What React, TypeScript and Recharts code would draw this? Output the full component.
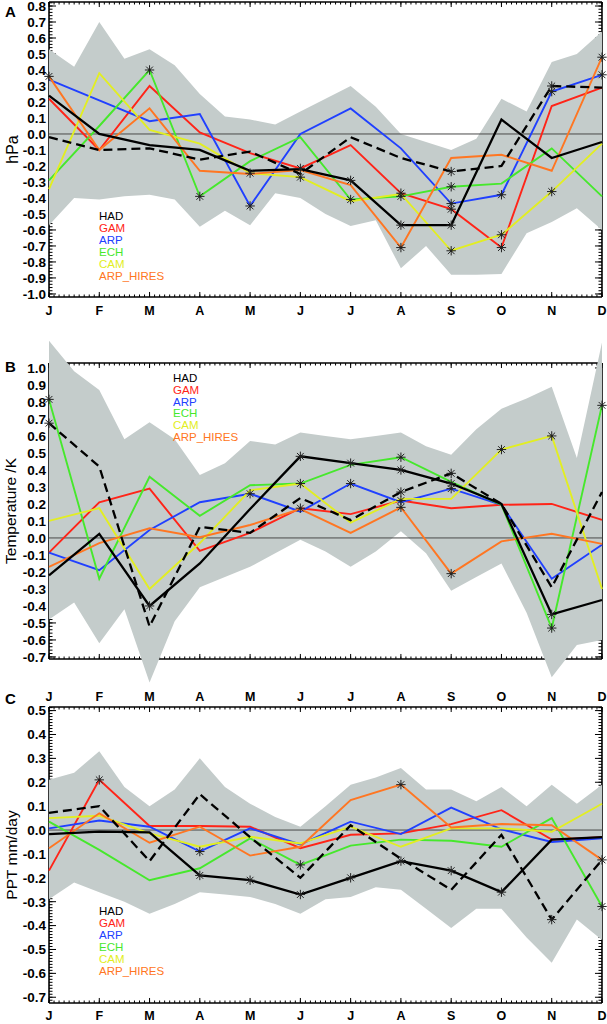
import { ComposedChart, Line, Area, XAxis, YAxis, ReferenceLine, Customized } from "recharts";

const MONTHS = ["J", "F", "M", "A", "M", "J", "J", "A", "S", "O", "N", "D"];
const MONTH_X = [0, 1, 2, 3, 4, 5, 6, 7, 8, 9, 10, 11];
// the spread band is sampled at mid-months too
const BAND_X = [0, 0.5, 1, 1.5, 2, 2.5, 3, 3.5, 4, 4.5, 5, 5.5, 6, 6.5, 7, 7.5, 8, 8.5, 9, 9.5, 10, 10.5, 11];

const SERIES = ["HAD", "GAM", "ARP", "ECH", "CAM", "ARP_HIRES"];
const COLORS: Record<string, string> = {
  HAD: "#000000",
  GAM: "#ff2418",
  ARP: "#2040ff",
  ECH: "#46e82c",
  CAM: "#e2ee22",
  ARP_HIRES: "#ff7622",
};
// colour lines first, black ones last (on top)
const DRAW_ORDER = ["GAM", "ARP", "ECH", "CAM", "ARP_HIRES", "HAD"];

// ---- A : pressure (hPa)
const A_TICKS = [-1.0, -0.9, -0.8, -0.7, -0.6, -0.5, -0.4, -0.3, -0.2, -0.1, 0.0, 0.1, 0.2, 0.3, 0.4, 0.5, 0.6, 0.7, 0.8];
const A_HAD = [0.24, 0.0, -0.07, -0.1, -0.23, -0.22, -0.29, -0.57, -0.57, 0.09, -0.15, -0.05];
const A_GAM = [0.22, -0.1, 0.3, 0.01, -0.12, -0.215, -0.07, -0.37, -0.47, -0.71, 0.175, 0.29];
const A_ARP = [0.34, 0.21, 0.08, 0.125, -0.45, 0.0, 0.16, -0.09, -0.435, -0.38, 0.265, 0.37];
const A_ECH = [-0.29, 0.05, 0.4, -0.39, -0.17, -0.02, -0.41, -0.39, -0.33, -0.31, -0.09, -0.39];
const A_CAM = [-0.345, 0.38, 0.025, -0.06, -0.245, -0.27, -0.42, -0.375, -0.73, -0.63, -0.36, -0.06];
const A_HIRES = [0.36, -0.1, 0.16, -0.23, -0.25, -0.225, -0.32, -0.71, -0.15, -0.13, -0.23, 0.48];
const A_DASH = [-0.02, -0.1, -0.09, -0.16, -0.11, -0.25, -0.02, -0.15, -0.235, -0.2, 0.3, 0.29];
const A_BAND_UP = [0.53, 0.42, 0.7, 0.47, 0.53, 0.43, 0.25, 0.11, 0.09, 0.06, 0.14, 0.22, 0.3, 0.17, 0.0, -0.05, -0.1, -0.03, 0.22, 0.14, 0.45, 0.5, 0.64];
const A_BAND_LO = [-0.57, -0.4, -0.41, -0.39, -0.38, -0.41, -0.58, -0.48, -0.57, -0.37, -0.4, -0.5, -0.575, -0.54, -0.84, -0.7, -0.88, -0.88, -0.875, -0.62, -0.55, -0.465, -0.6];
// months (index) carrying an asterisk
const A_STARS: Record<string, number[]> = {
  HAD: [6, 7, 8],
  GAM: [5, 7, 8, 9],
  ARP: [4, 8, 9, 10, 11],
  ECH: [2, 3, 6, 7, 8],
  CAM: [4, 5, 8, 9, 10],
  ARP_HIRES: [0, 7, 11],
  DASH: [8, 10],
};

// ---- B : temperature
const B_TICKS = [-0.7, -0.6, -0.5, -0.4, -0.3, -0.2, -0.1, 0.0, 0.1, 0.2, 0.3, 0.4, 0.5, 0.6, 0.7, 0.8, 0.9, 1.0];
const B_HAD = [-0.22, 0.024, -0.4, -0.15, 0.17, 0.48, 0.44, 0.4, 0.32, 0.2, -0.45, -0.365];
const B_GAM = [-0.086, 0.21, 0.29, -0.076, 0.03, 0.175, 0.14, 0.22, 0.175, 0.195, 0.2, 0.106];
const B_ARP = [-0.086, -0.19, 0.047, 0.21, 0.26, 0.155, 0.32, 0.21, 0.29, 0.195, -0.24, -0.04];
const B_ECH = [0.815, -0.24, 0.36, 0.13, 0.31, 0.32, 0.43, 0.475, 0.33, 0.195, -0.53, 0.78];
const B_CAM = [0.1, 0.175, -0.3, -0.03, 0.28, 0.32, 0.09, 0.23, 0.23, 0.52, 0.6, -0.3];
const B_HIRES = [-0.17, -0.03, 0.057, 0.004, 0.076, 0.17, 0.03, 0.18, -0.21, -0.02, 0.025, -0.035];
const B_DASH = [0.675, 0.42, -0.52, 0.065, 0.03, 0.235, 0.105, 0.27, 0.38, 0.2, -0.29, 0.27];
const B_BAND_UP = [1.16, 0.98, 0.87, 0.58, 0.68, 0.58, 0.37, 0.44, 0.57, 0.55, 0.62, 0.6, 0.58, 0.6, 0.62, 0.54, 0.49, 0.64, 0.76, 0.82, 0.89, 0.47, 1.15];
const B_BAND_LO = [-0.48, -0.38, -0.62, -0.42, -0.85, -0.49, -0.29, -0.23, -0.17, -0.09, -0.01, -0.08, -0.17, -0.08, 0.04, -0.09, -0.31, -0.23, -0.15, -0.44, -0.82, -0.63, -0.6];
const B_STARS: Record<string, number[]> = {
  HAD: [2, 5, 6, 7, 8, 10],
  GAM: [5, 7],
  ARP: [4, 6, 8],
  ECH: [0, 7, 10, 11],
  CAM: [5, 9, 10],
  ARP_HIRES: [7, 8],
  DASH: [0, 7, 8],
};

// ---- C : precipitation
const C_TICKS = [-0.7, -0.6, -0.5, -0.4, -0.3, -0.2, -0.1, 0.0, 0.1, 0.2, 0.3, 0.4, 0.5];
const C_HAD = [-0.017, -0.007, -0.01, -0.19, -0.21, -0.27, -0.2, -0.13, -0.17, -0.26, -0.04, -0.03];
const C_GAM = [-0.17, 0.21, 0.017, 0.017, 0.014, -0.076, -0.02, -0.014, 0.025, 0.083, -0.04, -0.03];
const C_ARP = [0.007, 0.04, 0.014, -0.09, 0.007, -0.06, 0.035, -0.017, 0.094, 0.003, -0.05, -0.035];
const C_ECH = [0.035, -0.083, -0.21, -0.16, -0.035, -0.146, -0.065, -0.04, -0.045, -0.07, 0.05, -0.32];
const C_CAM = [0.05, 0.06, -0.014, -0.07, -0.028, -0.056, 0.014, -0.07, 0.007, 0.007, -0.007, 0.11];
const C_HIRES = [-0.076, 0.07, -0.053, 0.014, -0.107, -0.07, 0.125, 0.19, 0.011, 0.025, 0.02, -0.125];
const C_DASH = [0.072, 0.1, -0.13, 0.15, -0.03, -0.2, 0.02, -0.12, -0.25, -0.02, -0.375, -0.125];
const C_BAND_UP = [0.21, 0.24, 0.33, 0.18, 0.1, 0.17, 0.3, 0.18, 0.11, 0.055, 0.014, 0.1, 0.19, 0.22, 0.26, 0.17, 0.17, 0.12, 0.18, 0.1, 0.19, 0.11, 0.19];
const C_BAND_LO = [-0.29, -0.22, -0.26, -0.3, -0.35, -0.31, -0.26, -0.27, -0.28, -0.31, -0.35, -0.29, -0.28, -0.24, -0.25, -0.33, -0.41, -0.33, -0.33, -0.45, -0.555, -0.375, -0.46];
const C_STARS: Record<string, number[]> = {
  HAD: [3, 4, 5, 6, 7, 8, 9],
  GAM: [1],
  ARP: [3],
  ECH: [5, 11],
  CAM: [],
  ARP_HIRES: [7, 11],
  DASH: [10],
};

const FONT = "'Liberation Sans', Arial, Helvetica, sans-serif";
const PAGE_W = 607;
const PAGE_H = 1024;
const PLOT_L = 49;
const PLOT_R = 602;
const BAND_FILL = "#c4cccb";
const THIN = 0.01; // axes need a non-zero box to be drawn

type Panel = {
  letter: string;
  letterY: number;
  title: string;
  titleX: number;
  titleSize: number;
  top: number;
  bottom: number;
  yMin: number;
  yMax: number;
  ticks: number[];
  minorStep: number;
  topLabelGap: number | null; // baseline distance above frame, null = no labels
  bottomLabelGap: number | null; // baseline distance below frame
  lines: Record<string, number[]>;
  stars: Record<string, number[]>;
  bandUp: number[];
  bandLo: number[];
  legendX: number;
  legendY: number;
  legendStep: number;
};

const PANELS: Panel[] = [
  {
    letter: "A", letterY: 17, title: "hPa", titleX: 18, titleSize: 16,
    top: 2, bottom: 297, yMin: -1.019, yMax: 0.825, ticks: A_TICKS, minorStep: 0.02,
    topLabelGap: null, bottomLabelGap: 18.5,
    lines: { HAD: A_HAD, GAM: A_GAM, ARP: A_ARP, ECH: A_ECH, CAM: A_CAM, ARP_HIRES: A_HIRES, DASH: A_DASH },
    stars: A_STARS, bandUp: A_BAND_UP, bandLo: A_BAND_LO,
    legendX: 99, legendY: 219.5, legendStep: 12,
  },
  {
    letter: "B", letterY: 372, title: "Temperature /K", titleX: 15.5, titleSize: 15.5,
    top: 363, bottom: 659, yMin: -0.712, yMax: 1.029, ticks: B_TICKS, minorStep: 0.02,
    topLabelGap: null, bottomLabelGap: null,
    lines: { HAD: B_HAD, GAM: B_GAM, ARP: B_ARP, ECH: B_ECH, CAM: B_CAM, ARP_HIRES: B_HIRES, DASH: B_DASH },
    stars: B_STARS, bandUp: B_BAND_UP, bandLo: B_BAND_LO,
    legendX: 173, legendY: 382, legendStep: 11.8,
  },
  {
    letter: "C", letterY: 704, title: "PPT mm/day", titleX: 16.5, titleSize: 15.5,
    top: 707, bottom: 1003, yMin: -0.724, yMax: 0.515, ticks: C_TICKS, minorStep: 0.0125,
    topLabelGap: 6.5, bottomLabelGap: 17,
    lines: { HAD: C_HAD, GAM: C_GAM, ARP: C_ARP, ECH: C_ECH, CAM: C_CAM, ARP_HIRES: C_HIRES, DASH: C_DASH },
    stars: C_STARS, bandUp: C_BAND_UP, bandLo: C_BAND_LO,
    legendX: 99, legendY: 915, legendStep: 12,
  },
];

const X_MINOR = Array.from({ length: 111 }, (_, i) => i / 10);

function yMinorTicks(p: Panel) {
  const out: number[] = [];
  const start = Math.ceil(p.yMin / p.minorStep);
  const end = Math.floor(p.yMax / p.minorStep);
  for (let i = start; i <= end; i++) out.push(+(i * p.minorStep).toFixed(4));
  return out;
}

const MONTH_FONT = { fontSize: 12.5, fontWeight: 700, fontFamily: FONT, fill: "#000" };
const VALUE_FONT = { fontSize: 13.5, fontWeight: 700, fontFamily: FONT, fill: "#000" };

// inward tick mark, optionally with its label, drawn at the point recharts hands us
function tickMark(side: "left" | "right" | "top" | "bottom", len: number, label?: (v: number) => string, gap = 0) {
  return (props: any) => {
    const { x, y, payload, index } = props;
    const v = payload?.value;
    let seg = { x1: x, y1: y, x2: x, y2: y };
    if (side === "left") seg = { ...seg, x2: x + len };
    if (side === "right") seg = { ...seg, x2: x - len };
    if (side === "top") seg = { ...seg, y2: y + len };
    if (side === "bottom") seg = { ...seg, y2: y - len };
    let text = null;
    if (label) {
      if (side === "left")
        text = <text x={x - 3} y={y} dy="0.36em" textAnchor="end" {...VALUE_FONT}>{label(v)}</text>;
      if (side === "bottom")
        text = <text x={x} y={y + gap} textAnchor="middle" {...MONTH_FONT}>{label(v)}</text>;
      if (side === "top")
        text = <text x={x} y={y - gap} textAnchor="middle" {...MONTH_FONT}>{label(v)}</text>;
    }
    return (
      <g key={`t${index}`}>
        <line {...seg} stroke="#000" strokeWidth={1} />
        {text}
      </g>
    );
  };
}

function starDot(stars: number[]) {
  return (props: any) => {
    const { cx, cy, index } = props;
    if (!stars.includes(index) || cx == null || cy == null) return <g key={`n${index}`} />;
    const r = 4.7;
    const d = r * 0.72;
    return (
      <g key={`s${index}`} stroke="#222" strokeWidth={1}>
        <line x1={cx - r} y1={cy} x2={cx + r} y2={cy} />
        <line x1={cx} y1={cy - r} x2={cx} y2={cy + r} />
        <line x1={cx - d} y1={cy - d} x2={cx + d} y2={cy + d} />
        <line x1={cx - d} y1={cy + d} x2={cx + d} y2={cy - d} />
        <circle cx={cx} cy={cy} r={1.2} fill="#222" stroke="none" />
      </g>
    );
  };
}

function rowsOf(p: Panel) {
  return MONTH_X.map((x, i) => {
    const row: Record<string, number> = { x };
    for (const k of Object.keys(p.lines)) row[k] = p.lines[k][i];
    return row;
  });
}

function bandRowsOf(p: Panel) {
  return BAND_X.map((x, i) => ({ x, band: [p.bandLo[i], p.bandUp[i]] }));
}

const layerStyle: React.CSSProperties = { position: "absolute", left: 0, top: 0 };

// invisible series, one per axis pair, so every axis gets registered and drawn
const AXIS_PAIRS: [string, string][] = [["b", "l"], ["bm", "lm"], ["t", "r"], ["tm", "rm"]];

function AxesLayer({ p }: { p: Panel }) {
  const margin = { top: p.top, bottom: PAGE_H - p.bottom, left: PLOT_L, right: PAGE_W - PLOT_R };
  const frame = { stroke: "#000", strokeWidth: 1.6 };
  const yMinor = yMinorTicks(p);
  const domain: [number, number] = [p.yMin, p.yMax];
  const midY = (p.top + p.bottom) / 2;
  const month = (v: number) => MONTHS[v];
  const value = (v: number) => Number(v).toFixed(1);
  const common = { tickSize: 0, tickMargin: 0, interval: 0 as const, tickLine: false, allowDataOverflow: true, type: "number" as const };
  return (
    <div style={layerStyle}>
      <ComposedChart width={PAGE_W} height={PAGE_H} margin={margin} data={rowsOf(p)}>
        <XAxis xAxisId="b" dataKey="x" domain={[0, 11]} ticks={MONTH_X} orientation="bottom" height={THIN}
          tick={tickMark("bottom", 5, p.bottomLabelGap != null ? month : undefined, p.bottomLabelGap ?? 0)}
          axisLine={frame} {...common} />
        <XAxis xAxisId="bm" dataKey="x" domain={[0, 11]} ticks={X_MINOR} orientation="bottom" height={THIN}
          tick={tickMark("bottom", 2.5)} axisLine={false} {...common} />
        <XAxis xAxisId="t" dataKey="x" domain={[0, 11]} ticks={MONTH_X} orientation="top" height={THIN}
          tick={tickMark("top", 5, p.topLabelGap != null ? month : undefined, p.topLabelGap ?? 0)}
          axisLine={frame} {...common} />
        <XAxis xAxisId="tm" dataKey="x" domain={[0, 11]} ticks={X_MINOR} orientation="top" height={THIN}
          tick={tickMark("top", 2.5)} axisLine={false} {...common} />
        <YAxis yAxisId="l" domain={domain} ticks={p.ticks} orientation="left" width={THIN}
          tick={tickMark("left", 7, value)} axisLine={frame} {...common} />
        <YAxis yAxisId="lm" domain={domain} ticks={yMinor} orientation="left" width={THIN}
          tick={tickMark("left", 3.5)} axisLine={false} {...common} />
        <YAxis yAxisId="r" domain={domain} ticks={p.ticks} orientation="right" width={THIN}
          tick={tickMark("right", 7)} axisLine={frame} {...common} />
        <YAxis yAxisId="rm" domain={domain} ticks={yMinor} orientation="right" width={THIN}
          tick={tickMark("right", 3.5)} axisLine={false} {...common} />
        {AXIS_PAIRS.map(([xa, ya]) => (
          <Line key={xa} xAxisId={xa} yAxisId={ya} dataKey="HAD" stroke="none" dot={false}
            activeDot={false} legendType="none" isAnimationActive={false} />
        ))}
        <Customized
          component={() => (
            <g fontFamily={FONT} fill="#000">
              <text x={5} y={p.letterY} fontSize={15} fontWeight={700}>{p.letter}</text>
              <text x={p.titleX} y={midY} fontSize={p.titleSize} textAnchor="middle"
                transform={`rotate(-90 ${p.titleX} ${midY})`}>{p.title}</text>
            </g>
          )}
        />
      </ComposedChart>
    </div>
  );
}

function BandLayer({ p }: { p: Panel }) {
  // the band may poke out of the frame, so it gets its own wider y range on the same pixel scale
  const k = (p.bottom - p.top) / (p.yMax - p.yMin);
  const eMax = Math.max(p.yMax, ...p.bandUp);
  const eMin = Math.min(p.yMin, ...p.bandLo);
  const top = p.top - (eMax - p.yMax) * k;
  const bottom = p.bottom + (p.yMin - eMin) * k;
  const margin = { top, bottom: PAGE_H - bottom, left: PLOT_L, right: PAGE_W - PLOT_R };
  return (
    <div style={layerStyle}>
      <ComposedChart width={PAGE_W} height={PAGE_H} margin={margin} data={bandRowsOf(p)}>
        <XAxis dataKey="x" type="number" domain={[0, 11]} hide />
        <YAxis type="number" domain={[eMin, eMax]} hide />
        <Area dataKey="band" type="linear" fill={BAND_FILL} fillOpacity={1} stroke="none"
          isAnimationActive={false} dot={false} activeDot={false} />
      </ComposedChart>
    </div>
  );
}

function LinesLayer({ p }: { p: Panel }) {
  const margin = { top: p.top, bottom: PAGE_H - p.bottom, left: PLOT_L, right: PAGE_W - PLOT_R };
  return (
    <div style={layerStyle}>
      <ComposedChart width={PAGE_W} height={PAGE_H} margin={margin} data={rowsOf(p)}>
        <XAxis dataKey="x" type="number" domain={[0, 11]} hide />
        <YAxis type="number" domain={[p.yMin, p.yMax]} allowDataOverflow hide />
        <ReferenceLine y={0} stroke="#4a4a4a" strokeWidth={1} />
        {DRAW_ORDER.map((name) => (
          <Line key={name} dataKey={name} type="linear" stroke={COLORS[name]}
            strokeWidth={name === "HAD" ? 2.3 : 1.9} dot={starDot(p.stars[name])}
            activeDot={false} isAnimationActive={false} />
        ))}
        <Line dataKey="DASH" type="linear" stroke="#000" strokeWidth={2.3} strokeDasharray="9 5"
          dot={starDot(p.stars.DASH)} activeDot={false} isAnimationActive={false} />
        <Customized
          component={() => (
            <g fontFamily={FONT} fontSize={11.5}>
              {SERIES.map((name, i) => (
                <text key={name} x={p.legendX} y={p.legendY + i * p.legendStep} fill={COLORS[name]}>
                  {name}
                </text>
              ))}
            </g>
          )}
        />
      </ComposedChart>
    </div>
  );
}

export default function App() {
  return (
    <div style={{ position: "absolute", left: 0, top: 0, width: PAGE_W, height: PAGE_H, background: "#fff" }}>
      {PANELS.map((p) => (
        <div key={p.letter}>
          <AxesLayer p={p} />
          <BandLayer p={p} />
          <LinesLayer p={p} />
        </div>
      ))}
    </div>
  );
}
